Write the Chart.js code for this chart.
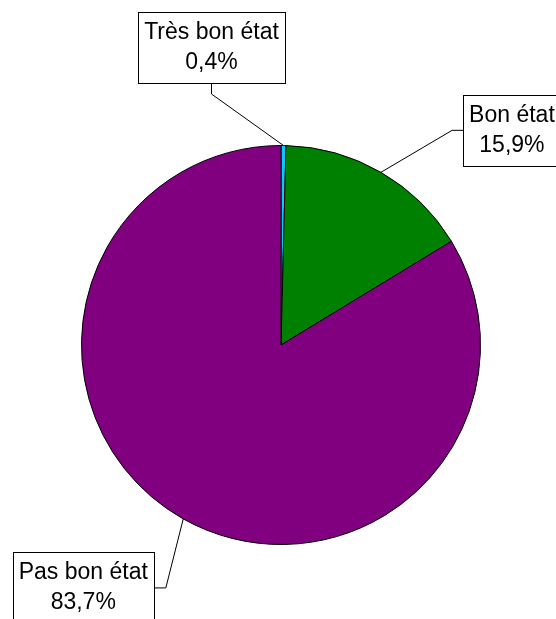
<!DOCTYPE html>
<html>
<head>
<meta charset="utf-8">
<script src="https://cdn.jsdelivr.net/npm/chart.js@4.4.0/dist/chart.umd.min.js"></script>
<style>
  html, body { margin: 0; padding: 0; background: #fff; }
  #wrap { width: 556px; height: 619px; position: relative; }
</style>
</head>
<body>
<div id="wrap"><canvas id="pieChart"></canvas></div>
<script>
const categories = ['Très bon état', 'Bon état', 'Pas bon état'];
const percentages = [0.4, 15.9, 83.7];
const valueLabels = ['0,4%', '15,9%', '83,7%'];
const sliceColors = ['#00CCFF', '#008000', '#800080'];

// label box placement: box centre relative to the slice anchor + elbow style
const labelPlacement = [
    { dx: -72, dy: -98, elbow: 'up' },
    { dx: 131, dy: -42, elbow: 'side' },
    { dx: -100, dy: 69, elbow: 'side' }
];

const calloutPlugin = {
    id: 'callouts',
    afterDatasetsDraw(chart) {
        const ctx = chart.ctx;
        const meta = chart.getDatasetMeta(0);
        ctx.save();
        ctx.font = '23px "Liberation Sans", Arial, sans-serif';
        ctx.textAlign = 'center';
        ctx.textBaseline = 'middle';
        meta.data.forEach((arc, i) => {
            const mid = (arc.startAngle + arc.endAngle) / 2;
            const ax = arc.x + Math.cos(mid) * arc.outerRadius;
            const ay = arc.y + Math.sin(mid) * arc.outerRadius;
            const p = labelPlacement[i];
            const cx = ax + p.dx, cy = ay + p.dy;
            const w = Math.max(ctx.measureText(categories[i]).width, ctx.measureText(valueLabels[i]).width) + 12;
            const h = 71;
            const bx = cx - w / 2, by = cy - h / 2;

            // leader line
            ctx.strokeStyle = '#000';
            ctx.lineWidth = 1;
            ctx.beginPath();
            if (p.elbow === 'up') {
                ctx.moveTo(ax, ay);
                ctx.lineTo(cx, by + h + 11);
                ctx.lineTo(cx, by + h);
            } else {
                const right = cx < ax;
                const edge = right ? bx + w : bx;
                const knee = right ? edge + 12 : edge - 11;
                ctx.moveTo(ax, ay);
                ctx.lineTo(knee, cy);
                ctx.lineTo(edge, cy);
            }
            ctx.stroke();

            // box
            ctx.fillStyle = '#fff';
            ctx.fillRect(bx, by, w, h);
            ctx.strokeRect(Math.round(bx) + 0.5, Math.round(by) + 0.5, Math.round(w), h);

            ctx.fillStyle = '#000';
            ctx.fillText(categories[i], cx, cy - 15);
            ctx.fillText(valueLabels[i], cx, cy + 15);
        });
        ctx.restore();
    }
};

new Chart(document.getElementById('pieChart'), {
    type: 'pie',
    data: {
        labels: categories,
        datasets: [{
            data: percentages,
            backgroundColor: sliceColors,
            borderColor: '#000',
            borderWidth: 1
        }]
    },
    options: {
        responsive: true,
        maintainAspectRatio: false,
        animation: false,
        layout: { padding: { left: 81, right: 75, top: 145, bottom: 74 } },
        plugins: {
            legend: { display: false },
            tooltip: { enabled: false }
        }
    },
    plugins: [calloutPlugin]
});
</script>
</body>
</html>
